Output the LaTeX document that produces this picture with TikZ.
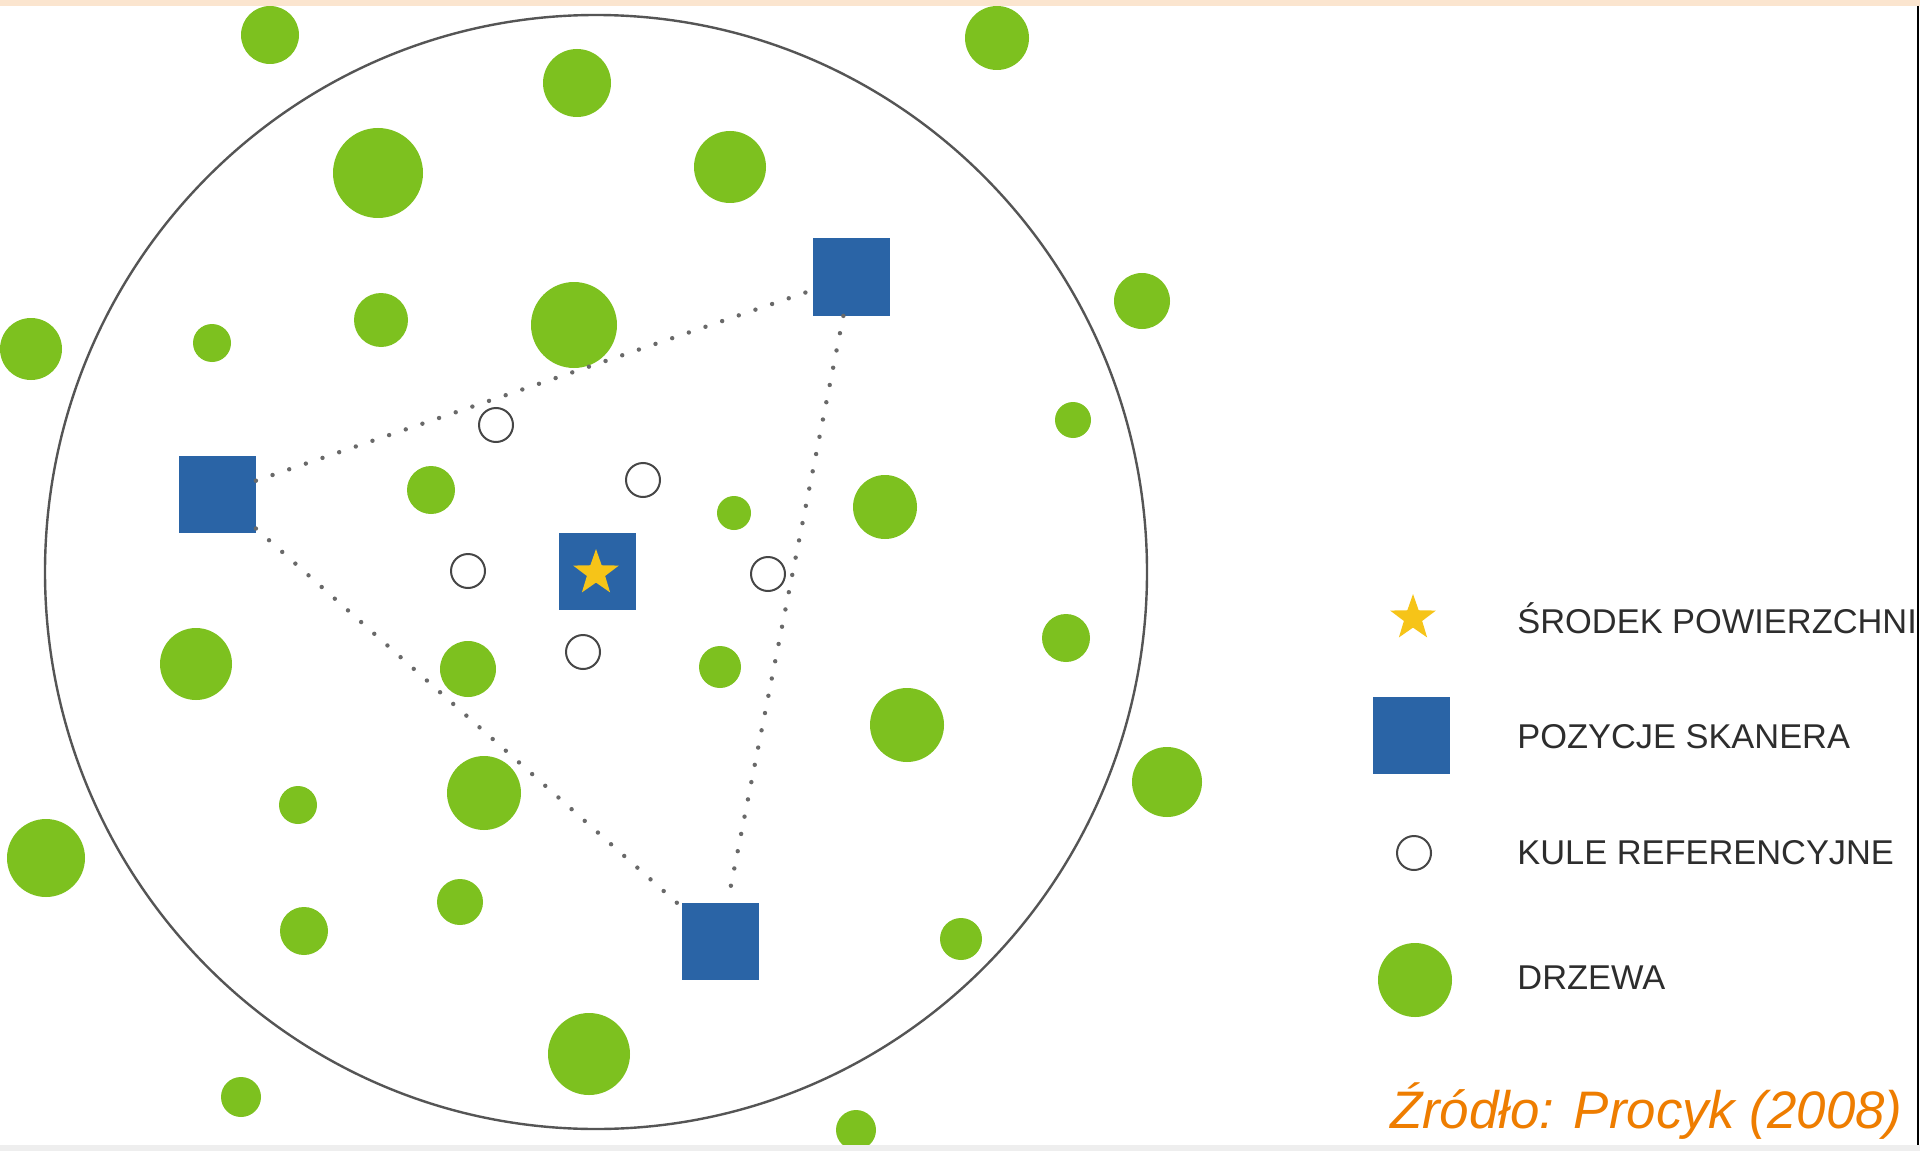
\documentclass[tikz,border=0pt]{standalone}
\usepackage{fontspec}
\setmainfont{Liberation Sans}
\usetikzlibrary{shapes.geometric}
\definecolor{treegreen}{RGB}{125,193,31}
\definecolor{scanblue}{RGB}{42,100,166}
\definecolor{stargold}{RGB}{246,196,24}
\definecolor{refgray}{RGB}{70,70,70}
\definecolor{dotgray}{RGB}{105,105,105}
\definecolor{plotgray}{RGB}{85,85,85}
\definecolor{topbeige}{RGB}{251,229,207}
\definecolor{bottomgray}{RGB}{238,238,238}
\definecolor{legendtext}{RGB}{45,45,45}
\definecolor{srcorange}{RGB}{238,125,0}
\begin{document}
\begin{tikzpicture}[x=0.5pt,y=-0.5pt,
 tree/.style={circle, fill=treegreen, inner sep=0pt, minimum size=#1},
 refball/.style={circle, draw=refgray, line width=1pt, fill=white, inner sep=0pt, minimum size=17pt},
 scanner/.style={rectangle, fill=scanblue, inner sep=0pt, minimum size=38.5pt},
 centerstar/.style={star, star points=5, star point ratio=2.5, fill=stargold, inner sep=0pt, minimum size=24pt},
 dotline/.style={draw=dotgray, line width=2.2pt, line cap=round, dash pattern=on 0pt off 8.8pt},
 plotline/.style={draw=plotgray, line width=1.2pt},
 legendlabel/.style={anchor=base west, inner sep=0pt, text=legendtext, font=\fontsize{17.2pt}{20pt}\selectfont},
 source/.style={anchor=base east, inner sep=0pt, text=srcorange, font=\fontsize{26.4pt}{30pt}\selectfont\itshape}]
\useasboundingbox (0,0) rectangle (1920,1150);
\fill[white] (0,0) rectangle (1920,1150);

% plot boundary
\coordinate (plotcenter) at (596,572);
\draw[plotline] (plotcenter) ellipse [x radius=275.5pt, y radius=278.5pt];

% trees
\node[tree=29pt] (t1) at (270,35) {};
\node[tree=34pt] (t2) at (577,83) {};
\node[tree=45pt] (t3) at (378,173) {};
\node[tree=36pt] (t4) at (730,167) {};
\node[tree=32pt] (t5) at (997,38) {};
\node[tree=28pt] (t6) at (1142,301) {};
\node[tree=31pt] (t7) at (31,349) {};
\node[tree=19pt] (t8) at (212,343) {};
\node[tree=27pt] (t9) at (381,320) {};
\node[tree=43pt] (t10) at (574,325) {};
\node[tree=18pt] (t11) at (1073,420) {};
\node[tree=24pt] (t12) at (431,490) {};
\node[tree=17pt] (t13) at (734,513) {};
\node[tree=32pt] (t14) at (885,507) {};
\node[tree=36pt] (t15) at (196,664) {};
\node[tree=28pt] (t16) at (468,669) {};
\node[tree=21pt] (t17) at (720,667) {};
\node[tree=24pt] (t18) at (1066,638) {};
\node[tree=37pt] (t19) at (907,725) {};
\node[tree=35pt] (t20) at (1167,782) {};
\node[tree=19pt] (t21) at (298,805) {};
\node[tree=37pt] (t22) at (484,793) {};
\node[tree=39pt] (t23) at (46,858) {};
\node[tree=24pt] (t24) at (304,931) {};
\node[tree=23pt] (t25) at (460,902) {};
\node[tree=21pt] (t26) at (961,939) {};
\node[tree=41pt] (t27) at (589,1054) {};
\node[tree=20pt] (t28) at (241,1097) {};
\node[tree=20pt] (t29) at (856,1130) {};

% reference balls
\node[refball] (r1) at (496,425) {};
\node[refball] (r2) at (643,480) {};
\node[refball] (r3) at (468,571) {};
\node[refball] (r4) at (768,574) {};
\node[refball] (r5) at (583,652) {};

% scanner positions
\node[scanner] (s1) at (851,277) {};
\node[scanner] (s2) at (217,494) {};
\node[scanner] (s3) at (720,941) {};
\node[scanner] (c) at (597,571) {};
\node[centerstar] (cstar) at (596,573) {};

% dotted triangle
\draw[dotline] (s2) -- (s1);
\draw[dotline] (s1) -- (s3);
\draw[dotline] (s2) -- (s3);

% legend
\node[centerstar] (lstar) at (1413,618) {};
\node[scanner] (lsq) at (1411,735) {};
\node[refball] (lref) at (1414,853) {};
\node[tree=37pt] (ltree) at (1415,980) {};
\begin{scope}
\clip (0,0) rectangle (1916,1150);
\node[legendlabel] (lab1) at (1517,633) {ŚRODEK POWIERZCHNI};
\end{scope}
\node[legendlabel] (lab2) at (1517,748) {POZYCJE SKANERA};
\node[legendlabel] (lab3) at (1517,864) {KULE REFERENCYJNE};
\node[legendlabel] (lab4) at (1517,989) {DRZEWA};

% source
\node[source] (src) at (1903,1128) {Źródło: Procyk (2008)};

% frame details
\fill[topbeige] (-10,-10) rectangle (1930,6);
\fill[bottomgray] (-10,1145) rectangle (1930,1160);
\draw[line width=1pt, black] (1918,6) -- (1918,1145);
\end{tikzpicture}
\end{document}
